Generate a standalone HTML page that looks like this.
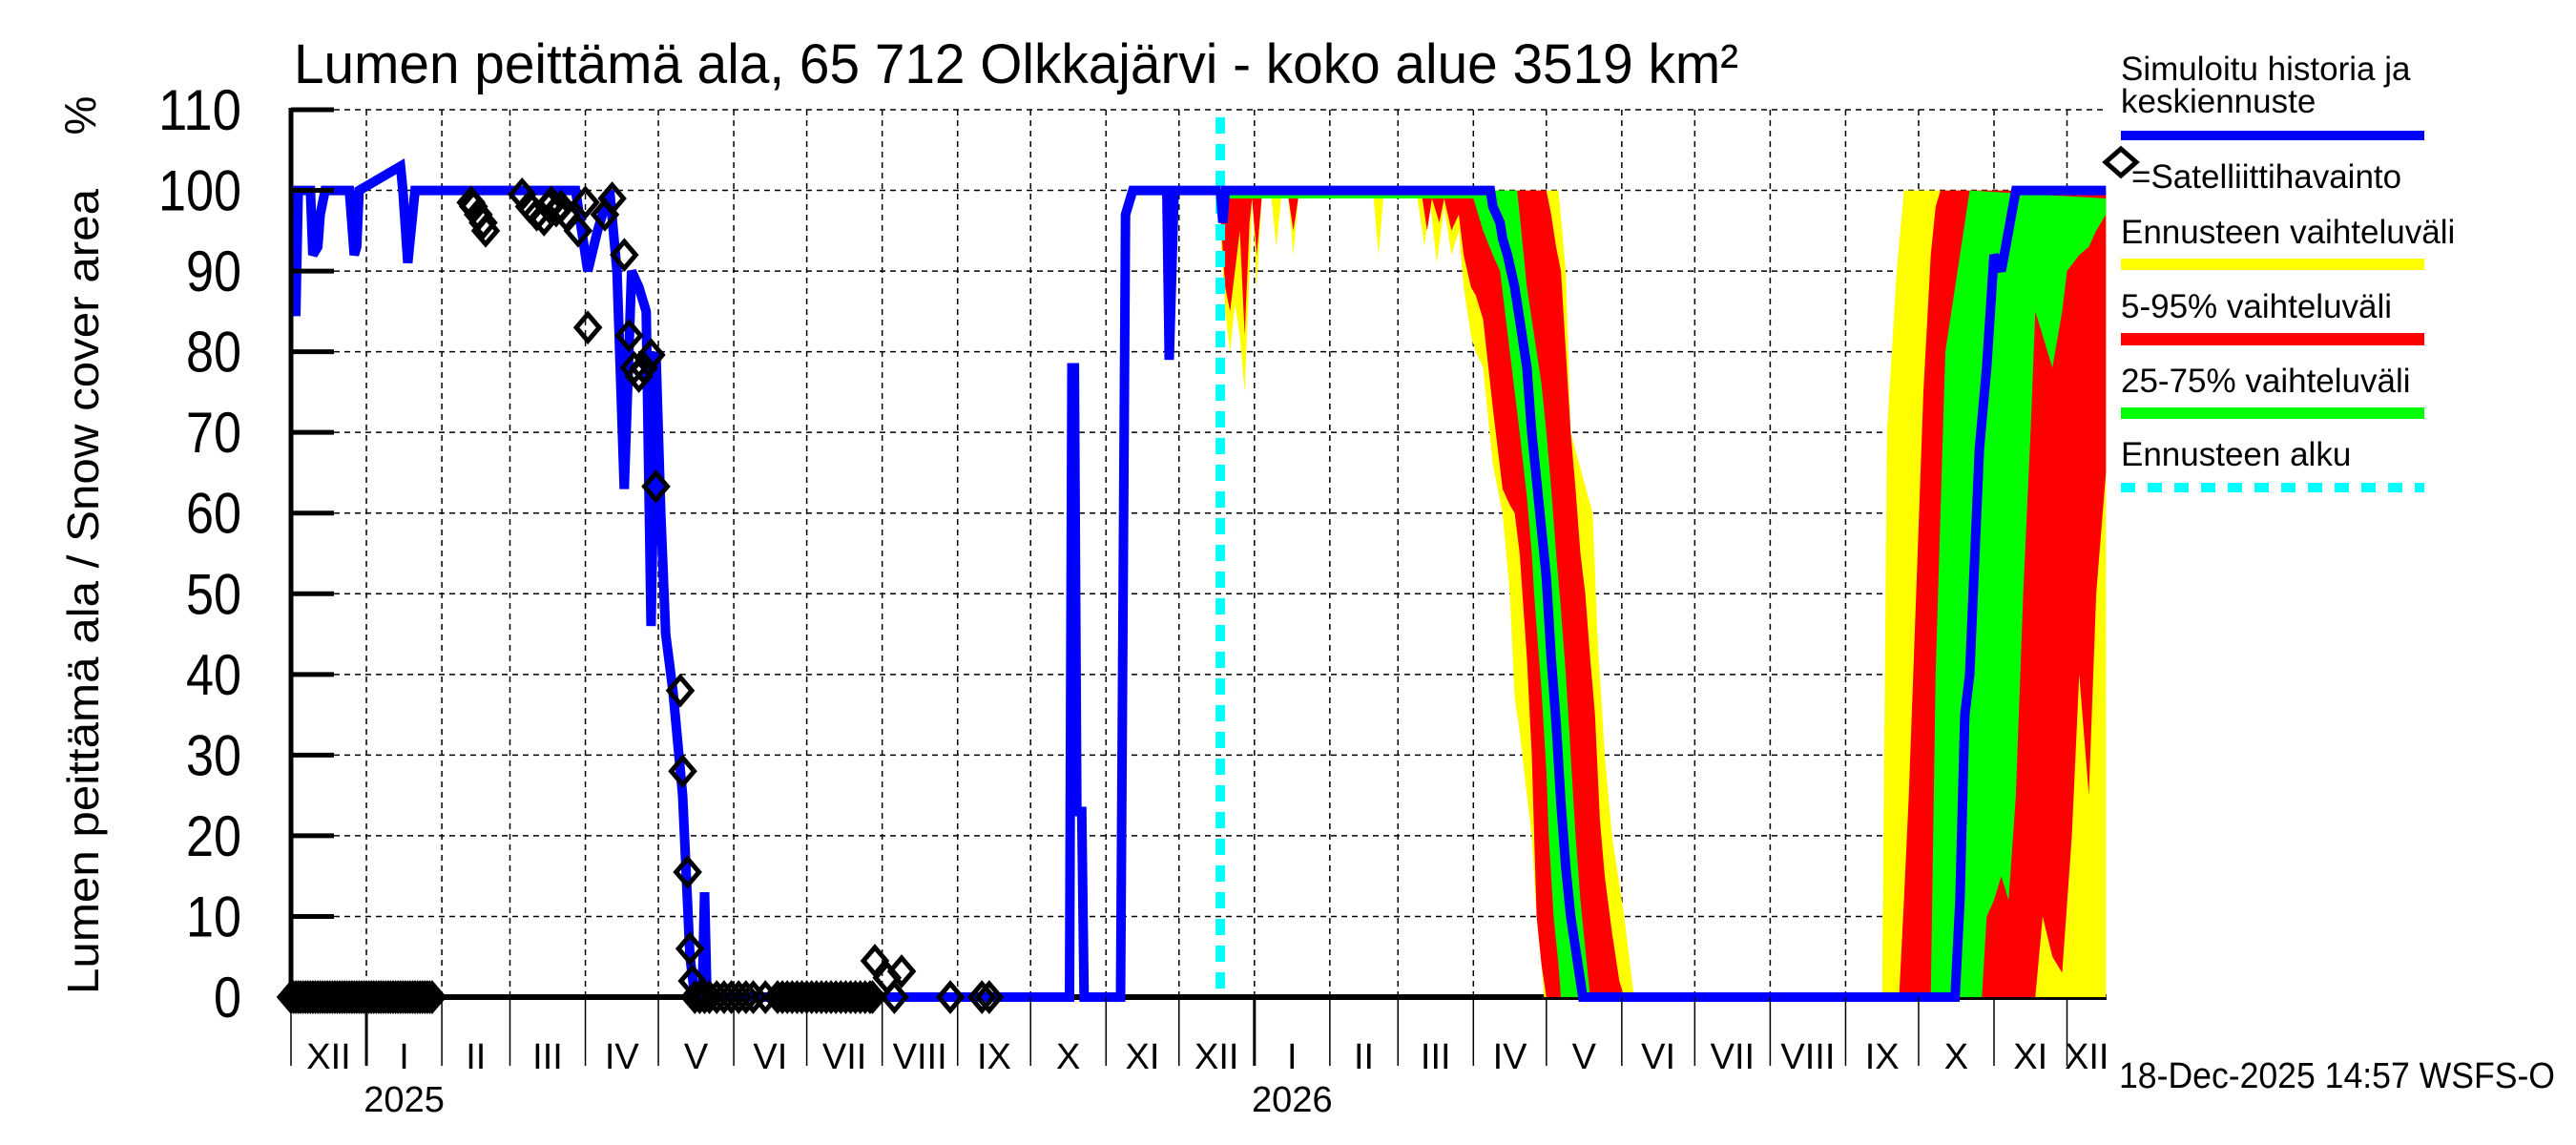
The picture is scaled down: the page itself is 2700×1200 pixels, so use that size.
<!DOCTYPE html>
<html><head><meta charset="utf-8"><style>
html,body{margin:0;padding:0;background:#fff;}
svg{display:block;font-family:"Liberation Sans",Arial,sans-serif;}
</style></head>
<body>
<svg id="chart" width="2700" height="1200" viewBox="0 0 2700 1200" xmlns="http://www.w3.org/2000/svg">
<rect x="0" y="0" width="2700" height="1200" fill="#fff"/>
<text x="308" y="87" font-size="58" textLength="1514" lengthAdjust="spacingAndGlyphs">Lumen peittämä ala, 65 712 Olkkajärvi - koko alue 3519 km²</text>
<text transform="translate(103,620) rotate(-90)" text-anchor="middle" font-size="46" textLength="844" lengthAdjust="spacingAndGlyphs">Lumen peittämä ala / Snow cover area</text>
<text transform="translate(100,121) rotate(-90)" text-anchor="middle" font-size="46">%</text>
<g id="grid"></g>
<g id="bands"></g>
<g id="lines"></g>
<g id="axes"></g>
<g id="obs"></g>
<g id="legend">
<text x="2223" y="84" font-size="35">Simuloitu historia ja</text>
<text x="2223" y="118" font-size="35">keskiennuste</text>
<rect x="2223" y="137" width="318" height="10" fill="#0000ff"/>
<polygon points="2223,156 2239,170 2223,184 2207,170" fill="none" stroke="#000" stroke-width="5"/>
<text x="2234" y="197" font-size="35">=Satelliittihavainto</text>
<text x="2223" y="255" font-size="35">Ennusteen vaihteluväli</text>
<rect x="2223" y="271" width="318" height="12" fill="#ffff00"/>
<text x="2223" y="333" font-size="35">5-95% vaihteluväli</text>
<rect x="2223" y="349" width="318" height="13" fill="#ff0000"/>
<text x="2223" y="411" font-size="35">25-75% vaihteluväli</text>
<rect x="2223" y="427" width="318" height="12" fill="#00ff00"/>
<text x="2223" y="488" font-size="35">Ennusteen alku</text>
<line x1="2223" y1="511" x2="2541" y2="511" stroke="#00ffff" stroke-width="10" stroke-dasharray="15 13"/>
</g>
<text x="2221" y="1140" font-size="38" textLength="457" lengthAdjust="spacingAndGlyphs">18-Dec-2025 14:57 WSFS-O</text>
</svg>
<script>
// ---- data (day index from 1 Dec 2024) ----
const yTicks = [0,10,20,30,40,50,60,70,80,90,100,110];
const monthNames = ["I","II","III","IV","V","VI","VII","VIII","IX","X","XI","XII"];
const yearLabels = [2025, 2026];
const forecastStartDay = 382;
const histDays = [0,2,3,8,9,11,12,14,24,26,27,28,45,46,48,50,51,117,122,126,131,134,137,140,143,146,148,150,152,154,157,161,164,166,169,170,171,320,321,322,323,325,326,341,343,346,360,361,363,382];
const histVals = [85,85,100,100,92,93,97,100,100,92,93,100,103,100,91,97,100,100,90,95,100,90,63,90,88,85,46,80,60,45,38,25,5,0,0,13,0,0,78,78,23,23,0,0,97,100,100,79,100,100];
const medDays = [382,383,384,493,494,497,498,500,503,505,508,510,512,514,516,518,520,522,524,526,528,530,531,684,686,688,690,694,697,700,703,706,709,746];
const medVals = [100,96,100,100,98,96,94,92,88,84,78,70,64,58,52,42,34,24,16,10,6,2,0,0,12,35,40,68,78,92,90,95,100,100];
const p100Days = [382,521,524,526,535,537,540,543,548,550,552,654,656,660,663,746];
const p100Vals = [100,100,90,70,60,45,30,20,10,5,0,0,70,90,100,100];
const p95Days = [382,516,518,520,522,524,526,528,530,532,534,536,538,540,543,546,548,661,663,665,668,671,674,676,678,746];
const p95Vals = [100,100,97,93,90,80,70,63,55,50,42,35,22,15,8,2,0,0,12,25,50,75,92,98,100,100];
const p75Days = [382,504,505,508,510,512,514,516,518,520,522,524,526,528,530,532,534,674,676,678,680,684,686,688,690,746];
const p75Vals = [100,100,97,88,84,80,76,70,63,55,48,40,30,20,12,6,0,0,40,60,80,88,92,96,100,99];
const p25Days = [382,486,490,494,497,501,505,508,510,511,513,514,516,517,519,521,522,695,697,700,703,706,709,712,715,717,720,724,728,730,735,739,742,746];
const p25Vals = [99,99,95,92,90,80,70,62,55,50,42,38,28,20,10,4,0,0,10,12,15,12,25,50,70,85,82,78,85,90,92,93,95,97];
const p5Days = [382,384,386,388,390,392,394,395,397,399,410,412,414,465,467,469,472,474,477,480,482,485,487,490,494,498,501,503,505,508,510,511,512,514,516,717,720,724,728,732,735,739,742,746];
const p5Vals = [97,88,85,90,95,82,96,99,92,99,99,95,99,99,95,99,96,99,95,97,92,88,87,84,73,63,61,60,55,42,30,20,10,4,0,0,10,5,3,20,40,25,50,65];
const p0Days = [382,384,386,388,390,392,394,395,397,399,403,405,407,410,412,414,445,447,449,463,466,468,471,474,477,480,482,485,487,490,494,498,501,503,505,508,510,512,514,515,746];
const p0Vals = [95,85,80,86,82,75,90,99,88,99,99,93,99,99,92,99,99,92,99,99,93,99,91,98,92,95,88,82,80,78,66,60,50,37,33,25,20,10,4,0,0];
const obsDays = [0,1,2,3,4,5,6,7,8,9,10,11,12,13,14,15,16,17,18,19,20,21,22,23,24,25,26,27,28,29,30,31,32,33,34,35,36,37,38,39,40,41,42,43,44,45,46,47,48,49,50,51,52,53,54,55,56,57,58,74,75,77,79,80,95,98,101,104,106,107,109,111,113,118,121,122,129,132,137,139,141,143,145,148,150,160,161,163,164,165,166,168,170,172,175,178,181,184,187,190,195,200,202,204,206,208,210,212,214,216,218,220,222,224,226,228,230,232,234,236,238,239,240,245,248,251,271,284,287];
const obsVals = [0,0,0,0,0,0,0,0,0,0,0,0,0,0,0,0,0,0,0,0,0,0,0,0,0,0,0,0,0,0,0,0,0,0,0,0,0,0,0,0,0,0,0,0,0,0,0,0,0,0,0,0,0,0,0,0,0,0,0,98.5,98,97,96,95,99.5,98,97,96.4,98,98.5,97.5,98,97,95,98.5,83,97,99,92,82,78,77,78,79.6,63.3,38,28,15.5,6,2,0,0,0,0,0,0,0,0,0,0,0,0,0,0,0,0,0,0,0,0,0,0,0,0,0,0,0,0,0,0,0,0,4.5,2.4,0,3.2,0,0,0,0,2.8];

// ---- axes ----
const X0 = 305, PXD = 2.55, XEND = 2208, Y0 = 1045, PXV = 8.4545;
function xDay(d){ return X0 + d*PXD; }
function yVal(v){ return Y0 - v*PXV; }
const NS = "http://www.w3.org/2000/svg";
function mk(tag, attrs, parent){
  const e = document.createElementNS(NS, tag);
  for (const k in attrs) e.setAttribute(k, attrs[k]);
  parent.appendChild(e);
  return e;
}
const grid = document.getElementById('grid');
const axes = document.getElementById('axes');
const bands = document.getElementById('bands');
const lines = document.getElementById('lines');
const obsG = document.getElementById('obs');

const startMs = Date.UTC(2024,11,1);
const bounds = [];
for (let y=2024, m=11; ; ) {
  const d = Math.round((Date.UTC(y,m,1)-startMs)/86400000);
  if (xDay(d) > XEND + 1) break;
  bounds.push({d:d, m:m, y:y});
  m++; if (m>11){m=0;y++;}
}
bounds.forEach((b,i)=>{
  const x = xDay(b.d);
  if (i>0) {
    const g = mk('line',{x1:x,y1:yVal(110),x2:x,y2:Y0,stroke:'#000','stroke-width':1.5,'stroke-dasharray':'6 5'},grid);
    
    
  }
  const t = mk('line',{x1:x,y1:Y0,x2:x,y2:1117,stroke:'#000','stroke-width':(b.m===0?3:1.5)},axes);
  
  
  const nextD = (i+1<bounds.length)? bounds[i+1].d : (XEND-X0)/PXD;
  const cx = (x + xDay(nextD))/2;
  const lb = mk('text',{x:cx,y:1120,'font-size':38,'text-anchor':'middle'},axes);
  lb.textContent = monthNames[b.m];
  
  
  if (b.m===0 && yearLabels.indexOf(b.y)>=0) {
    const yl = mk('text',{x:cx,y:1165,'font-size':38,'text-anchor':'middle'},axes);
    yl.textContent = String(b.y);
    
    
  }
});
yTicks.forEach(v=>{
  const y = yVal(v);
  if (v>0) {
    const g = mk('line',{x1:350,y1:y,x2:XEND,y2:y,stroke:'#000','stroke-width':1.5,'stroke-dasharray':'6 5'},grid);
    
    
  }
  const tk = mk('line',{x1:X0,y1:y,x2:350,y2:y,stroke:'#000','stroke-width':5},axes);
  
  
  const s = String(v);
  const tl = mk('text',{x:253,y:y+21,'font-size':60,'text-anchor':'end',textLength:29*s.length,lengthAdjust:'spacingAndGlyphs'},axes);
  tl.textContent = s;
  
  
});
const ya = mk('line',{x1:X0,y1:yVal(110)-2,x2:X0,y2:Y0+3,stroke:'#000','stroke-width':5},axes);


const xa = mk('line',{x1:X0,y1:Y0,x2:XEND,y2:Y0,stroke:'#000','stroke-width':6},grid);



function band(loD, loV, hiD, hiV, color, name){
  const pts = [];
  for (let i=0;i<hiD.length;i++) pts.push(xDay(hiD[i]).toFixed(1)+','+yVal(hiV[i]).toFixed(1));
  for (let i=loD.length-1;i>=0;i--) pts.push(xDay(loD[i]).toFixed(1)+','+yVal(loV[i]).toFixed(1));
  const p = mk('polygon',{points:pts.join(' '),fill:color,stroke:'none'},bands);
  
  
}
band(p0Days,p0Vals,p100Days,p100Vals,'#ffff00','band-min-max');
band(p5Days,p5Vals,p95Days,p95Vals,'#ff0000','band-5-95');
band(p25Days,p25Vals,p75Days,p75Vals,'#00ff00','band-25-75');

const fx = xDay(forecastStartDay);
const fl = mk('line',{x1:fx,y1:yVal(110)+8,x2:fx,y2:Y0-2,stroke:'#00ffff','stroke-width':10,'stroke-dasharray':'17 11'},lines);



function poly(ds, vs, name){
  const pts = ds.map((d,i)=>xDay(d).toFixed(1)+','+yVal(vs[i]).toFixed(1)).join(' ');
  const p = mk('polyline',{points:pts,fill:'none',stroke:'#0000ff','stroke-width':10,'stroke-linejoin':'miter','stroke-miterlimit':2},lines);
  
  
}
poly(histDays,histVals,'history-line');
poly(medDays,medVals,'median-forecast-line');

obsDays.forEach((d,i)=>{
  const x = xDay(d), y = yVal(obsVals[i]);
  const p = mk('polygon',{points:`${x},${y-14} ${x+12},${y} ${x},${y+14} ${x-12},${y}`,fill:'none',stroke:'#000','stroke-width':5},obsG);
  
  
});
</script>
</body></html>
